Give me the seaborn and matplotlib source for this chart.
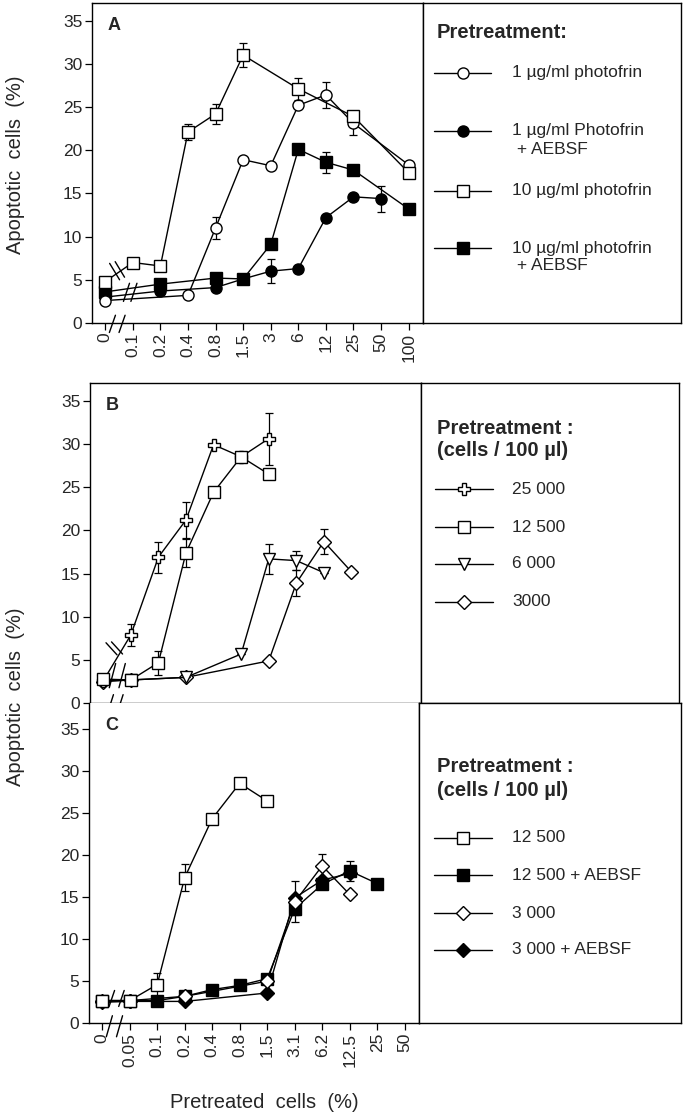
import matplotlib
matplotlib.use("Agg")
import matplotlib.pyplot as plt
import seaborn as sns

# x categories (log-spaced dilutions drawn evenly)
cats_a = ['0', '0.1', '0.2', '0.4', '0.8', '1.5', '3', '6', '12', '25', '50', '100']
cats_bc = ['0', '0.05', '0.1', '0.2', '0.4', '0.8', '1.5', '3.1', '6.2', '12.5', '25', '50']
y_ticks = [0, 5, 10, 15, 20, 25, 30, 35]

# panel A
a_oc_x = ['0', '0.4', '0.8', '1.5', '3', '6', '12', '25', '100']
a_oc_y = [2.6, 3.2, 11.0, 18.9, 18.2, 25.2, 26.4, 23.1, 18.3]
a_oc_e = [0, 0, 1.3, 0, 0, 0, 1.5, 1.3, 0]
a_fc_x = ['0', '0.2', '0.8', '1.5', '3', '6', '12', '25', '50']
a_fc_y = [3.0, 3.7, 4.1, 5.1, 6.0, 6.3, 12.2, 14.6, 14.4]
a_fc_e = [0, 0, 0, 0, 1.4, 0, 0, 0, 1.5]
a_os_x = ['0', '0.1', '0.2', '0.4', '0.8', '1.5', '6', '25', '100']
a_os_y = [4.8, 7.0, 6.6, 22.1, 24.2, 31.0, 27.1, 23.9, 17.4]
a_os_e = [0, 0, 0, 0.9, 1.2, 1.4, 1.3, 0, 0]
a_fs_x = ['0', '0.2', '0.8', '1.5', '3', '6', '12', '25', '100']
a_fs_y = [3.6, 4.5, 5.2, 5.1, 9.1, 20.1, 18.6, 17.7, 13.2]
a_fs_e = [0, 0, 0, 0, 0, 0, 1.2, 0, 0]
a_labels = ['1 µg/ml photofrin', '1 µg/ml Photofrin', '10 µg/ml photofrin', '10 µg/ml photofrin']

# panel B
b_cr_x = ['0', '0.05', '0.1', '0.2', '0.4', '0.8', '1.5']
b_cr_y = [2.6, 7.9, 16.9, 21.2, 29.9, 28.5, 30.6]
b_cr_e = [0, 1.3, 1.8, 2.1, 0, 0, 3.0]
b_sq_x = ['0', '0.05', '0.1', '0.2', '0.4', '0.8', '1.5']
b_sq_y = [2.8, 2.7, 4.7, 17.4, 24.4, 28.5, 26.5]
b_sq_e = [0, 0, 1.4, 1.6, 0, 0, 0]
b_tr_x = ['0', '0.05', '0.2', '0.8', '1.5', '3.1', '6.2']
b_tr_y = [2.6, 2.7, 3.0, 5.7, 16.7, 16.5, 15.1]
b_tr_e = [0, 0, 0, 0, 1.7, 1.1, 0]
b_di_x = ['0', '0.05', '0.2', '1.5', '3.1', '6.2', '12.5']
b_di_y = [2.5, 2.7, 3.0, 4.9, 13.9, 18.7, 15.2]
b_di_e = [0, 0, 0, 0, 1.5, 1.4, 0]
b_labels = ['25 000', '12 500', '6 000', '3000']

# panel C
c_os_x = ['0', '0.05', '0.1', '0.2', '0.4', '0.8', '1.5']
c_os_y = [2.7, 2.7, 4.6, 17.3, 24.3, 28.5, 26.4]
c_os_e = [0, 0, 1.4, 1.6, 0, 0, 0]
c_fs_x = ['0', '0.05', '0.1', '0.2', '0.4', '0.8', '1.5', '3.1', '6.2', '12.5', '25']
c_fs_y = [2.7, 2.7, 2.7, 3.2, 4.0, 4.5, 5.3, 13.6, 16.5, 18.1, 16.6]
c_fs_e = [0, 0, 0, 0, 0, 0, 0, 1.6, 0, 1.2, 0]
c_od_x = ['0', '0.05', '0.2', '1.5', '3.1', '6.2', '12.5']
c_od_y = [2.6, 2.7, 3.2, 5.0, 14.4, 18.7, 15.3]
c_od_e = [0, 0, 0, 0, 0, 1.4, 0]
c_fd_x = ['0', '0.05', '0.2', '1.5', '3.1', '6.2', '12.5']
c_fd_y = [2.5, 2.6, 2.6, 3.6, 14.9, 17.0, 17.8]
c_fd_e = [0, 0, 0, 0, 2.0, 0, 0]
c_labels = ['12 500', '12 500 + AEBSF', '3 000', '3 000 + AEBSF']

sns.set_theme(style='ticks')
plt.rcParams['font.family'] = ['Liberation Sans', 'DejaVu Sans']

W, H = 688, 1114
fig = plt.figure(figsize=(W / 100, H / 100), dpi=100)


def rect(x0, y0, x1, y1):
    """pixel box (top-left origin) -> figure fraction rect"""
    return [x0 / W, 1 - y1 / H, (x1 - x0) / W, (y1 - y0) / H]


def fx(x):
    return x / W


def fy(y):
    return 1 - y / H


def draw_series(ax, cats, xs, ys, err, marker, face, ms, z):
    pos = [cats.index(v) for v in xs]
    ax.errorbar(pos, ys, yerr=err, fmt='none', ecolor='black', elinewidth=0.9,
                capsize=3, capthick=0.9, zorder=z - 0.5)
    sns.lineplot(x=pos, y=ys, ax=ax, color='black', marker=marker, markersize=ms,
                 markerfacecolor=face, markeredgecolor='black', markeredgewidth=1.0,
                 linewidth=1.0, sort=False, errorbar=None, zorder=z)


def style_axis(ax, cats, top, letter, show_labels):
    ax.set_xlim(-0.48, 11.52)
    ax.set_ylim(0, top)
    ax.set_yticks(y_ticks)
    ax.set_yticklabels([str(t) for t in y_ticks], fontsize=12.5)
    ax.set_xticks(range(len(cats)))
    if show_labels:
        ax.set_xticklabels(cats, rotation=90, fontsize=12.5)
    else:
        ax.set_xticklabels([])
    ax.tick_params(direction='out', length=5, width=0.9, pad=2, color='black')
    for s in ax.spines.values():
        s.set_linewidth(1.0)
        s.set_color('black')
    ax.set_xlabel('')
    ax.set_ylabel('')
    ax.text(0.1, top - 2.6, letter, fontsize=13, fontweight='bold', ha='left', va='center')
    if ax.get_legend():
        ax.get_legend().remove()


def breaks(ax, strokes):
    for (x0, y0, x1, y1) in strokes:
        ax.plot([x0, x1], [y0, y1], color='black', lw=1.0, clip_on=False, zorder=10)


def legend_box(rect_px, title_lines, title_y, items, hx0, hx1, tx):
    lax = fig.add_axes(rect(*rect_px))
    lax.set_xticks([])
    lax.set_yticks([])
    for s in lax.spines.values():
        s.set_linewidth(1.0)
        s.set_color('black')
    for t, y in zip(title_lines, title_y):
        fig.text(fx(437), fy(y), t, fontsize=14.5, fontweight='bold', ha='left', va='center')
    for (y, marker, face, ms, lines) in items:
        lax.plot([fx(hx0), fx(hx1)], [fy(y), fy(y)], color='black', lw=1.0,
                 transform=fig.transFigure)
        lax.plot([fx((hx0 + hx1) / 2)], [fy(y)], marker=marker, ms=ms, mfc=face,
                 mec='black', mew=1.0, transform=fig.transFigure)
        for k, line in enumerate(lines):
            fig.text(fx(tx), fy(y + 18 * k), line, fontsize=12.5, ha='left', va='center')


# ---- panel A
ax_a = fig.add_axes(rect(92, 3.3, 423, 323))
draw_series(ax_a, cats_a, a_fc_x, a_fc_y, a_fc_e, 'o', 'black', 8, 3)
draw_series(ax_a, cats_a, a_fs_x, a_fs_y, a_fs_e, 's', 'black', 8, 4)
draw_series(ax_a, cats_a, a_oc_x, a_oc_y, a_oc_e, 'o', 'white', 8, 5)
draw_series(ax_a, cats_a, a_os_x, a_os_y, a_os_e, 's', 'white', 8, 6)
style_axis(ax_a, cats_a, 37.0, 'A', True)
breaks(ax_a, [(0.15, -1.1, 0.37, 0.9), (0.5, -1.1, 0.72, 0.9),
              (0.66, 2.5, 0.88, 4.6), (0.93, 2.5, 1.15, 4.6),
              (0.16, 6.9, 0.52, 5.0), (0.36, 7.1, 0.7, 5.3)])

legend_box((423, 3.3, 681, 323), ['Pretreatment:'], [33],
           [(73, 'o', 'white', 8, [a_labels[0]]),
            (131, 'o', 'black', 8, [a_labels[1], ' + AEBSF']),
            (191, 's', 'white', 8, [a_labels[2]]),
            (248, 's', 'black', 8, [a_labels[3], ' + AEBSF'])],
           434, 491, 512)

# ---- panel B
ax_b = fig.add_axes(rect(90, 383.3, 421, 703.3))
draw_series(ax_b, cats_bc, b_di_x, b_di_y, b_di_e, 'D', 'white', 7, 3)
draw_series(ax_b, cats_bc, b_tr_x, b_tr_y, b_tr_e, 'v', 'white', 8.5, 4)
draw_series(ax_b, cats_bc, b_cr_x, b_cr_y, b_cr_e, 'P', 'white', 8.5, 5)
draw_series(ax_b, cats_bc, b_sq_x, b_sq_y, b_sq_e, 's', 'white', 8.5, 6)
style_axis(ax_b, cats_bc, 37.0, 'B', False)
breaks(ax_b, [(0.15, -1.2, 0.37, 1.0), (0.5, -1.2, 0.72, 1.0),
              (0.22, 1.8, 0.45, 4.6), (0.57, 1.8, 0.8, 4.6),
              (0.1, 7.0, 0.5, 5.6), (0.3, 7.1, 0.7, 5.7)])

legend_box((421, 383.3, 679, 703.3), ['Pretreatment :', '(cells / 100 µl)'], [428, 451],
           [(489, 'P', 'white', 8, [b_labels[0]]),
            (527, 's', 'white', 8, [b_labels[1]]),
            (564, 'v', 'white', 8, [b_labels[2]]),
            (602, 'D', 'white', 7, [b_labels[3]])],
           435, 493, 512)

# ---- panel C
ax_c = fig.add_axes(rect(89, 703.3, 419, 1023.3))
draw_series(ax_c, cats_bc, c_fd_x, c_fd_y, c_fd_e, 'D', 'black', 7, 3)
draw_series(ax_c, cats_bc, c_fs_x, c_fs_y, c_fs_e, 's', 'black', 8.5, 4)
draw_series(ax_c, cats_bc, c_od_x, c_od_y, c_od_e, 'D', 'white', 7, 5)
draw_series(ax_c, cats_bc, c_os_x, c_os_y, c_os_e, 's', 'white', 8.5, 6)
style_axis(ax_c, cats_bc, 38.0, 'C', True)
ax_c.spines['top'].set_visible(False)
breaks(ax_c, [(0.15, -1.6, 0.37, 0.9), (0.52, -1.6, 0.74, 0.9),
              (0.25, 2.0, 0.45, 3.9), (0.6, 2.0, 0.8, 3.9)])

legend_box((419, 703.3, 681, 1023.3), ['Pretreatment :', '(cells / 100 µl)'], [767, 790],
           [(838, 's', 'white', 8, [c_labels[0]]),
            (875, 's', 'black', 8, [c_labels[1]]),
            (913, 'D', 'white', 7, [c_labels[2]]),
            (950, 'D', 'black', 7, [c_labels[3]])],
           434, 492, 512)

# axis titles
fig.text(fx(16), fy(165), 'Apoptotic  cells  (%)', rotation=90, fontsize=14.5,
         ha='center', va='center')
fig.text(fx(16), fy(697), 'Apoptotic  cells  (%)', rotation=90, fontsize=14.5,
         ha='center', va='center')
fig.text(fx(264), fy(1102), 'Pretreated  cells  (%)', fontsize=14.5,
         ha='center', va='center')

fig.savefig('out.png', dpi=100, facecolor='white')
